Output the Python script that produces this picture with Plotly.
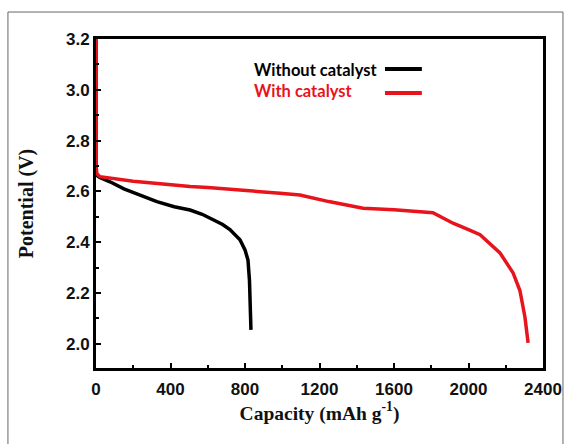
import plotly.graph_objects as go

# Without catalyst (black)
cap_without = [0, 0, 20, 75, 150, 250, 327, 420, 505, 570, 628, 680, 719, 773, 800, 816, 824, 827, 830, 832]
pot_without = [3.2, 2.665, 2.655, 2.638, 2.61, 2.58, 2.56, 2.54, 2.527, 2.51, 2.488, 2.47, 2.45, 2.41, 2.37, 2.33, 2.25, 2.17, 2.10, 2.055]

# With catalyst (red)
cap_with = [0, 0, 5, 21, 200, 400, 505, 600, 800, 988, 1095, 1250, 1434, 1600, 1809, 1917, 2000, 2062, 2169, 2239, 2276, 2303, 2320]
pot_with = [3.2, 2.70, 2.67, 2.658, 2.64, 2.625, 2.619, 2.615, 2.605, 2.593, 2.586, 2.56, 2.534, 2.528, 2.516, 2.475, 2.45, 2.43, 2.358, 2.28, 2.21, 2.106, 2.004]

x_ticks = [0, 400, 800, 1200, 1600, 2000, 2400]
y_ticks = [2.0, 2.2, 2.4, 2.6, 2.8, 3.0, 3.2]
legend_labels = ["Without catalyst", "With catalyst"]
colors = ["#000000", "#e8141c"]

fig = go.Figure()
fig.add_trace(go.Scatter(x=cap_without, y=pot_without, mode="lines",
                         line=dict(color=colors[0], width=3.5), name=legend_labels[0]))
fig.add_trace(go.Scatter(x=cap_with, y=pot_with, mode="lines",
                         line=dict(color=colors[1], width=3.5), name=legend_labels[1]))

tickfont = dict(family="Liberation Sans, Arial", size=17, color="#111111", weight="bold")

fig.update_xaxes(range=[0, 2400], tickvals=x_ticks, ticktext=[str(v) for v in x_ticks],
                 ticks="inside", ticklen=5, tickwidth=2, tickcolor="black", ticklabelstandoff=4,
                 minor=dict(dtick=200, ticks="inside", ticklen=3, tickwidth=2, tickcolor="black"),
                 showline=True, linewidth=3, linecolor="black", mirror=True, automargin=False,
                 showgrid=False, zeroline=False, tickfont=tickfont,
                 title=dict(text="Capacity (mAh g<sup>-1</sup>)",
                            font=dict(family="Liberation Serif, Times New Roman", size=19.5, color="#111111", weight="bold"),
                            standoff=8))
fig.update_yaxes(range=[1.905, 3.2], tickvals=y_ticks, ticktext=[f"{v:.1f}" for v in y_ticks],
                 ticks="inside", ticklen=5, tickwidth=2, tickcolor="black",
                 minor=dict(dtick=0.1, ticks="inside", ticklen=3, tickwidth=2, tickcolor="black"),
                 showline=True, linewidth=3, linecolor="black", mirror=True, automargin=False,
                 showgrid=False, zeroline=False, tickfont=tickfont,
                 title=dict(text="Potential (V)",
                            font=dict(family="Liberation Serif, Times New Roman", size=20, color="#111111", weight="bold"),
                            standoff=27))

# custom legend: text then line sample
legend_y = [0.906, 0.842]
line_y = [0.909, 0.836]
for lab, col, ty, ly in zip(legend_labels, colors, legend_y, line_y):
    fig.add_annotation(x=0.349, y=ty, xref="paper", yref="paper", text=f"<b>{lab}</b>",
                       showarrow=False, xanchor="left", yanchor="middle",
                       font=dict(family="Lato, Open Sans", size=16.5, color=col))
    fig.add_shape(type="line", xref="paper", yref="paper", x0=0.6465, x1=0.729, y0=ly, y1=ly,
                  line=dict(color=col, width=4))

# outer frame
fig.add_shape(type="rect", xref="paper", yref="paper", x0=-0.197, x1=1.0447, y0=-0.235, y1=1.082,
              line=dict(color="#666666", width=1))

fig.update_layout(width=567, height=444, margin=dict(l=96, r=24, t=39, b=76),
                  paper_bgcolor="white", plot_bgcolor="white", showlegend=False)

fig.write_html("out.html", config={"displayModeBar": False},
               post_script="document.body.style.margin='0';document.body.style.overflow='hidden';")
